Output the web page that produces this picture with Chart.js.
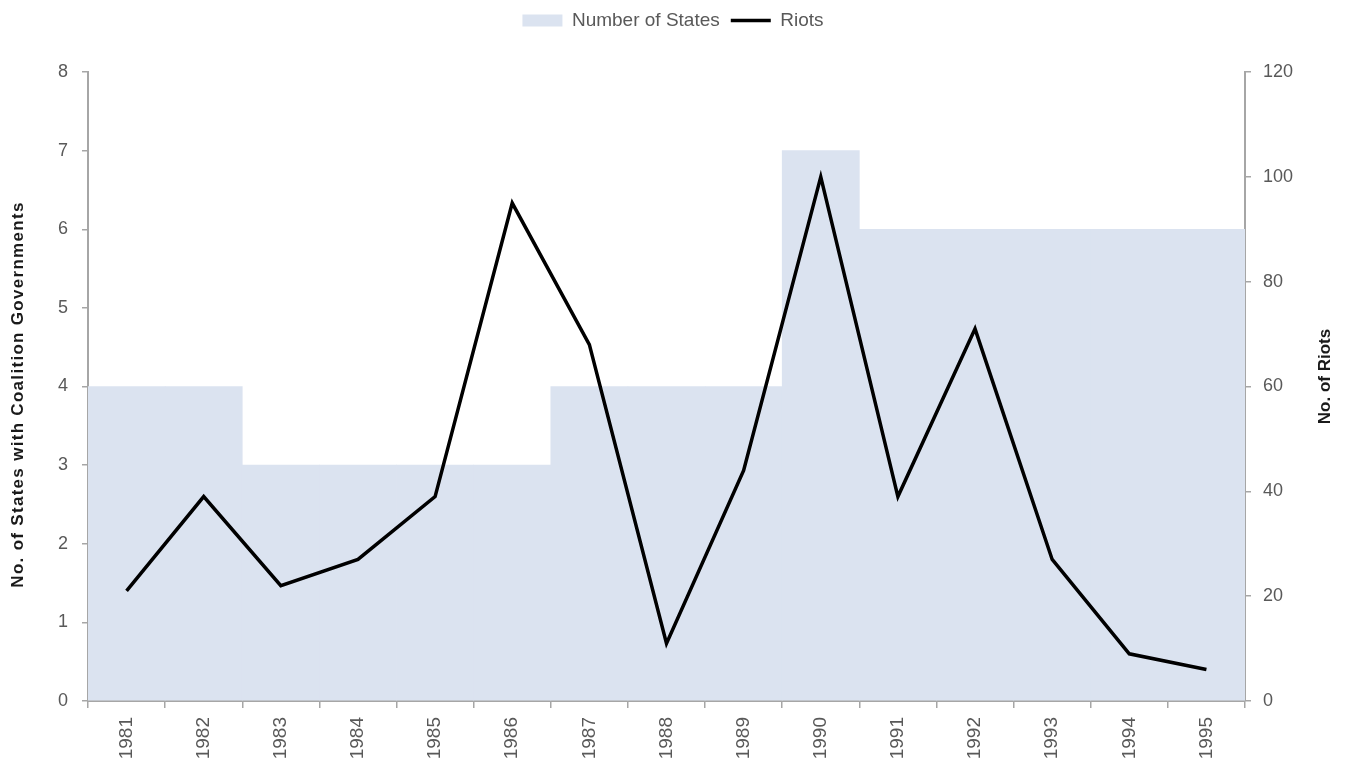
<!DOCTYPE html>
<html>
<head>
<meta charset="utf-8">
<style>
  html, body { margin: 0; padding: 0; background: #fff; }
  canvas { display: block; }
</style>
<script src="https://cdn.jsdelivr.net/npm/chart.js"></script>
</head>
<body>
<canvas id="riotsChart" width="1346" height="773"></canvas>
<script>
const years = ['1981', '1982', '1983', '1984', '1985', '1986', '1987', '1988',
               '1989', '1990', '1991', '1992', '1993', '1994', '1995'];
const coalitionStates = [4, 4, 3, 3, 3, 3, 4, 4, 4, 7, 6, 6, 6, 6, 6];
const riots = [21, 39, 22, 27, 39, 95, 68, 11, 44, 100, 39, 71, 27, 9, 6];

const textGrey = '#595959';
const axisGrey = '#a6a6a6';
const tickFont = { family: 'Liberation Sans, Arial, sans-serif', size: 18 };

// leave some room between the legend and the plot
const legendGap = {
    id: 'legendGap',
    beforeInit(chart) {
        const fit = chart.legend.fit;
        chart.legend.fit = function () {
            fit.bind(chart.legend)();
            this.height += 32;
        };
    }
};

// axis titles read bottom-to-top on both sides, so draw them by hand
const axisTitles = {
    id: 'axisTitles',
    afterDraw(chart) {
        const ctx = chart.ctx;
        const area = chart.chartArea;
        const midY = (area.top + area.bottom) / 2;
        ctx.save();
        ctx.fillStyle = '#1a1a1a';
        ctx.textAlign = 'center';
        ctx.textBaseline = 'middle';
        ctx.font = 'bold 17px "Liberation Sans", Arial, sans-serif';

        ctx.save();
        ctx.letterSpacing = '1.3px';
        ctx.translate(18, midY + 8);
        ctx.rotate(-Math.PI / 2);
        ctx.fillText('No. of States with Coalition Governments', 0, 0);
        ctx.restore();

        ctx.save();
        ctx.translate(chart.width - 21, midY - 10);
        ctx.rotate(-Math.PI / 2);
        ctx.fillText('No. of Riots', 0, 0);
        ctx.restore();

        ctx.restore();
    }
};

const ctx = document.getElementById('riotsChart').getContext('2d');
new Chart(ctx, {
    type: 'bar',
    data: {
        labels: years,
        datasets: [
            {
                type: 'line',
                label: 'Riots',
                data: riots,
                yAxisID: 'y1',
                borderColor: '#000',
                backgroundColor: '#000',
                borderWidth: 3.5,
                pointRadius: 0,
                tension: 0,
                fill: false,
                pointStyle: 'line',
                order: 1
            },
            {
                label: 'Number of States',
                data: coalitionStates,
                yAxisID: 'y',
                backgroundColor: '#dbe3f0',
                borderWidth: 0,
                categoryPercentage: 1.0,
                barPercentage: 1.0,
                pointStyle: 'rect',
                order: 2
            }
        ]
    },
    options: {
        responsive: false,
        animation: false,
        layout: { padding: { top: 0, left: 0, right: 0, bottom: 0 } },
        plugins: {
            legend: {
                position: 'top',
                reverse: true,
                labels: {
                    usePointStyle: true,
                    pointStyleWidth: 40,
                    boxHeight: 12,
                    padding: 11,
                    color: textGrey,
                    font: { family: 'Liberation Sans, Arial, sans-serif', size: 19 }
                }
            },
            tooltip: { enabled: false }
        },
        scales: {
            x: {
                grid: {
                    offset: true,
                    drawOnChartArea: false,
                    tickLength: 7,
                    color: axisGrey,
                    lineWidth: 1.5
                },
                border: { color: axisGrey, width: 2 },
                ticks: {
                    minRotation: 90,
                    maxRotation: 90,
                    padding: 9,
                    color: textGrey,
                    font: { family: 'Liberation Sans, Arial, sans-serif', size: 19 }
                },
                afterFit: scale => { scale.height = 72; }
            },
            y: {
                position: 'left',
                min: 0,
                max: 8,
                grid: { drawOnChartArea: false, tickLength: 6, color: axisGrey, lineWidth: 1.5 },
                border: { color: axisGrey, width: 2 },
                ticks: { stepSize: 1, padding: 14, color: textGrey, font: tickFont },
                afterFit: scale => { scale.width = 88; }
            },
            y1: {
                position: 'right',
                min: 0,
                max: 120,
                grid: { drawOnChartArea: false, tickLength: 6, color: axisGrey, lineWidth: 1.5 },
                border: { color: axisGrey, width: 2 },
                ticks: { stepSize: 20, padding: 12, color: textGrey, font: tickFont },
                afterFit: scale => { scale.width = 101; }
            }
        }
    },
    plugins: [legendGap, axisTitles]
});
</script>
</body>
</html>
